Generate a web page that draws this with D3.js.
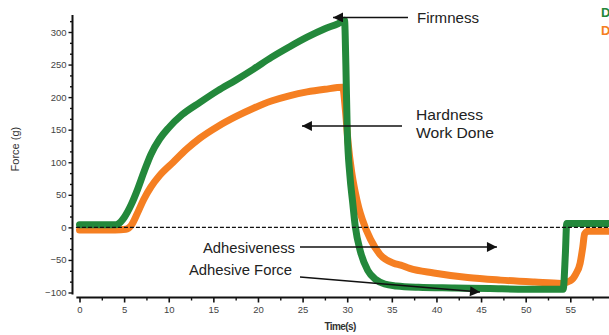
<!DOCTYPE html>
<html><head><meta charset="utf-8">
<script src="https://cdn.jsdelivr.net/npm/d3@7"></script>
<style>
html,body{margin:0;padding:0;background:#fff;overflow:hidden;}
svg{display:block;font-family:"Liberation Sans",Arial,sans-serif;}
</style></head>
<body>
<svg id="chart" width="609" height="335"></svg>
<script>
// ---- data ----
const seriesNames = ["D", "D"];
const greenTime  = [0, 2, 4, 4.3, 5, 5.8, 6.5, 7.3, 8, 9, 10, 11.5, 13.5, 15.5, 17.5, 19.5, 21.5, 23.5, 25.5, 27.5, 29, 29.7, 29.85, 30.0, 30.3, 30.6, 30.9, 31.5, 32.3, 33.2, 34.2, 35.5, 38, 42, 46, 50, 54.2, 54.45, 54.6, 57, 59.6];
const greenForce = [4, 4, 4, 5, 15, 35, 58, 88, 112, 136, 153, 173, 192, 210, 226, 243, 261, 277, 292, 305, 313, 318, 250, 150, 80, 40, 2, -38, -66, -80, -87, -90, -92, -93, -94, -95, -95, -40, 6, 6, 6];
const orangeTime  = [0, 2, 4, 5.2, 5.8, 6.5, 7.2, 8, 9, 10.5, 12, 13.5, 15.5, 17.5, 19.5, 21.5, 23.5, 25.5, 27.5, 29.5, 29.8, 30.1, 30.5, 30.9, 31.3, 31.7, 32.6, 33.7, 35.2, 36, 37, 39.7, 43.5, 47.2, 51, 54, 55, 55.6, 56.1, 56.4, 56.6, 57, 59.6];
const orangeForce = [-4, -4, -4, -3, 3, 22, 43, 62, 80, 100, 120, 137, 155, 170, 183, 194, 202, 208, 212, 215, 180, 130, 85, 54, 30, 12, -18, -42, -55, -58, -63, -70, -77, -81, -84, -86, -82, -72, -55, -30, -10, -6, -6];
const xTicks = [0, 5, 10, 15, 20, 25, 30, 35, 40, 45, 50, 55];
const yTicks = [-100, -50, 0, 50, 100, 150, 200, 250, 300];
const annotationTexts = ["Firmness", "Hardness", "Work Done", "Adhesiveness", "Adhesive Force"];

const colors = {green: "#23883b", orange: "#f57f22"};

const svg = d3.select("#chart");
const x = d3.scaleLinear().domain([0, 55]).range([79.5, 570.3]);
const y = d3.scaleLinear().domain([-100, 300]).range([292.5, 32]);

// axes
const xAxisY = 297.5, yAxisX = 72.5;
const gx = svg.append("g").attr("transform", `translate(0,${xAxisY})`)
  .call(d3.axisBottom(x).tickValues(xTicks).tickSize(5).tickPadding(4).tickFormat(d3.format("d")));
gx.select(".domain").remove();
gx.selectAll(".tick line").attr("stroke", "#111").attr("stroke-width", 1.6);
gx.selectAll("text").attr("font-size", 9.5).attr("fill", "#444");
const gxm = svg.append("g").attr("transform", `translate(0,${xAxisY})`)
  .call(d3.axisBottom(x).tickValues(d3.range(2.5, 60, 5)).tickSize(3).tickFormat(""));
gxm.select(".domain").remove();
gxm.selectAll(".tick line").attr("stroke", "#111").attr("stroke-width", 1.4);
svg.append("line").attr("x1", x(-0.35)).attr("x2", 609).attr("y1", xAxisY).attr("y2", xAxisY)
  .attr("stroke", "#111").attr("stroke-width", 2);

const gy = svg.append("g").attr("transform", `translate(${yAxisX},0)`)
  .call(d3.axisLeft(y).tickValues(yTicks).tickSize(4).tickPadding(2).tickFormat(d3.format("d")));
gy.select(".domain").remove();
gy.selectAll(".tick line").attr("stroke", "#111").attr("stroke-width", 1.4);
gy.selectAll("text").attr("font-size", 9.5).attr("fill", "#444");
const yMinor = [];
for (let v = -100; v < 325; v += 50 / 3) { if (Math.abs(Math.round(v) % 50) > 1) yMinor.push(v); }
const gym = svg.append("g").attr("transform", `translate(${yAxisX},0)`)
  .call(d3.axisLeft(y).tickValues(yMinor).tickSize(2.5).tickFormat(""));
gym.select(".domain").remove();
gym.selectAll(".tick line").attr("stroke", "#111").attr("stroke-width", 1.4);
svg.append("line").attr("x1", yAxisX).attr("x2", yAxisX).attr("y1", y(-103)).attr("y2", y(326))
  .attr("stroke", "#111").attr("stroke-width", 2);

// axis titles
svg.append("text").attr("transform", `translate(19,${(y(115)+y(150))/2+8}) rotate(-90)`)
  .attr("text-anchor", "middle").attr("font-size", 11).attr("fill", "#333").text("Force (g)");
svg.append("text").attr("x", x(29.2)).attr("y", 330).attr("text-anchor", "middle")
  .attr("font-size", 10).attr("font-weight", "bold").attr("letter-spacing", -0.6).attr("fill", "#333").text("Time(s)");

// series
const line = d3.line().x(d => x(d[0])).y(d => y(d[1])).curve(d3.curveMonotoneX);
const orangeData = orangeTime.map((t, i) => [t, orangeForce[i]]);
const greenData = greenTime.map((t, i) => [t, greenForce[i]]);
svg.append("path").datum(orangeData).attr("d", line).attr("fill", "none")
  .attr("stroke", colors.orange).attr("stroke-width", 7).attr("stroke-linejoin", "round").attr("stroke-linecap", "round");
svg.append("path").datum(greenData).attr("d", line).attr("fill", "none")
  .attr("stroke", colors.green).attr("stroke-width", 7).attr("stroke-linejoin", "round").attr("stroke-linecap", "round");

// zero dashed line
svg.append("line").attr("x1", x(-0.4)).attr("x2", 609).attr("y1", y(0)).attr("y2", y(0))
  .attr("stroke", "#111").attr("stroke-width", 1.4).attr("stroke-dasharray", "4,2");

// arrows
svg.append("defs").append("marker").attr("id", "ah").attr("viewBox", "0 0 10 10")
  .attr("refX", 10).attr("refY", 5).attr("markerWidth", 12).attr("markerHeight", 10)
  .attr("markerUnits", "userSpaceOnUse").attr("orient", "auto")
  .append("path").attr("d", "M0,0 L10,5 L0,10 Z").attr("fill", "#111");
const arrows = [[36.81, 322.3, 28.41, 322.3], [36.14, 155.7, 24.93, 155.7], [24.71, -30.1, 46.78, -30.1], [24.71, -76.2, 44.88, -99.2]];
arrows.forEach(a => {
  svg.append("line").attr("x1", x(a[0])).attr("y1", y(a[1])).attr("x2", x(a[2])).attr("y2", y(a[3]))
    .attr("stroke", "#111").attr("stroke-width", 1.3).attr("marker-end", "url(#ah)");
});

// annotation texts
const textPos = [[37.82, 313.9, 62], [37.71, 164.9, 67], [37.71, 137.3, 78], [13.84, -39.3, 92], [12.27, -73.1, 103]];
annotationTexts.forEach((t, i) => {
  svg.append("text").attr("x", x(textPos[i][0])).attr("y", y(textPos[i][1]))
    .attr("font-size", 14).attr("fill", "#222")
    .attr("textLength", textPos[i][2]).attr("lengthAdjust", "spacingAndGlyphs").text(t);
});

// legend (clipped at right edge)
svg.append("text").attr("x", 601).attr("y", 17).attr("font-size", 13).attr("font-weight", "bold").attr("fill", colors.green).text(seriesNames[0]);
svg.append("text").attr("x", 601).attr("y", 35).attr("font-size", 13).attr("font-weight", "bold").attr("fill", colors.orange).text(seriesNames[1]);
</script>
</body></html>
